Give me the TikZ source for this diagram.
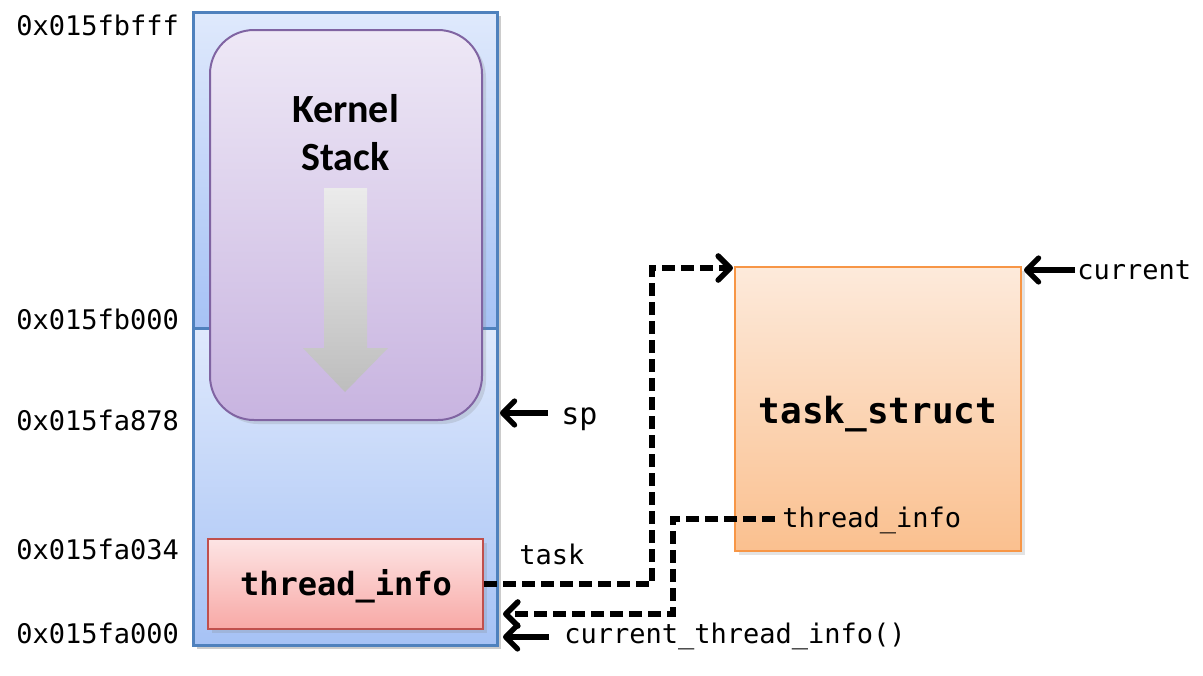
\documentclass[tikz,border=0pt]{standalone}
\usepackage{fontspec}
\setmonofont{DejaVu Sans Mono}
\newfontfamily\kfont{Carlito}
\usetikzlibrary{arrows.meta,shadows}
\definecolor{bborder}{HTML}{4F81BD}
\definecolor{btop}{HTML}{DFE9FC}
\definecolor{bbot}{HTML}{A6C2F5}
\definecolor{ptop}{HTML}{EEE8F6}
\definecolor{pbot}{HTML}{C8B4E0}
\definecolor{pborder}{HTML}{8064A2}
\definecolor{gtop}{HTML}{EBEBEB}
\definecolor{gbot}{HTML}{BDBDBD}
\definecolor{rtop}{HTML}{FDE4E4}
\definecolor{rbot}{HTML}{F8A9A6}
\definecolor{rborder}{HTML}{C0504D}
\definecolor{otop}{HTML}{FDEADB}
\definecolor{obot}{HTML}{FAC08F}
\definecolor{oborder}{HTML}{F79646}
\tikzset{
  box/.style={inner sep=0pt, line width=1pt},
  shadowed/.style={drop shadow={opacity=0.22, shadow xshift=2pt, shadow yshift=-2pt}},
  txt/.style={inner sep=0pt, anchor=base west, font=\ttfamily\fontsize{13.5}{16}\selectfont},
  ptr/.style={line width=2.6pt, -{Straight Barb[length=6pt,width=12pt,round]}},
  dptr/.style={line width=2.8pt, dash pattern=on 6.5pt off 3pt, -{Straight Barb[length=6pt,width=12pt,round]}},
}
\begin{document}
\begin{tikzpicture}[x=0.5pt,y=-0.5pt]
\useasboundingbox (0,0) rectangle (1203,675);
% blue stack region
\fill[black,opacity=0.2] (197,16) rectangle (501,649);
\shade[top color=btop,bottom color=bbot] (193,12) rectangle (497,328);
\shade[top color=btop,bottom color=bbot] (193,328) rectangle (497,645);
\coordinate (dl) at (193,328);
\coordinate (dr) at (497,328);
\draw[bborder,line width=1.5pt] (dl) -- (dr);
\node[box,draw=bborder,line width=1.5pt,minimum width=152pt,minimum height=316.5pt] (stack) at (345,328.5) {};
% purple kernel stack
\node[box,draw=pborder,top color=ptop,bottom color=pbot,rounded corners=22pt,minimum width=136pt,minimum height=195pt,shadowed] (kstack) at (346,225) {};
\node[inner sep=0pt,align=center,font=\kfont\bfseries\fontsize{20}{24}\selectfont,anchor=base] (ktext) at (345.5,170) {Kernel\\Stack};
\shade[top color=gtop,bottom color=gbot] (324,188) -- (367,188) -- (367,348) -- (388,348) -- (345,392) -- (303,348) -- (324,348) -- cycle;
% thread_info
\node[box,draw=rborder,top color=rtop,bottom color=rbot,minimum width=137.5pt,minimum height=45pt,shadowed] (tinfo) at (345.5,584) {};
\node[inner sep=0pt,anchor=base,font=\ttfamily\bfseries\fontsize{16}{19}\selectfont] (tinfotext) at (346,595) {thread\_info};
% task_struct
\node[box,draw=oborder,top color=otop,bottom color=obot,minimum width=143pt,minimum height=142pt,shadowed] (ts) at (878,409) {};
\node[inner sep=0pt,anchor=base,font=\ttfamily\bfseries\fontsize{18}{21}\selectfont] (tstext) at (878,423) {task\_struct};
\node[txt] (tilab) at (782,527) {thread\_info};
% address labels
\node[txt] (a1) at (16,35) {0x015fbfff};
\node[txt] (a2) at (16,329) {0x015fb000};
\node[txt] (a3) at (16,430) {0x015fa878};
\node[txt] (a4) at (16,559) {0x015fa034};
\node[txt] (a5) at (16,643) {0x015fa000};
% pointer labels
\node[txt,font=\ttfamily\fontsize{15}{18}\selectfont] (sp) at (561,424) {sp};
\node[txt] (current) at (1077,279) {current};
\node[txt] (cti) at (564,643) {current\_thread\_info()};
\node[txt] (task) at (519,564) {task};
% solid arrows
\coordinate (spend) at (500,413);
\coordinate (spstart) at (548,413);
\draw[ptr] (spstart) -- (spend);
\coordinate (custart) at (1075,270);
\coordinate (cuend) at (1024,270);
\draw[ptr] (custart) -- (cuend);
\coordinate (ctistart) at (549,637);
\coordinate (ctiend) at (503,637);
\draw[ptr] (ctistart) -- (ctiend);
% dashed arrows
\coordinate (k1) at (652,268);
\coordinate (tsin) at (733,268);
\draw[dptr] (tinfo.east) -| (k1) -- (tsin);
\coordinate (k2) at (673,519);
\coordinate (k3) at (673,614);
\coordinate (tiend) at (503,614);
\draw[dptr] (775,519) -- (k2) -- (k3) -- (tiend);
\end{tikzpicture}
\end{document}
